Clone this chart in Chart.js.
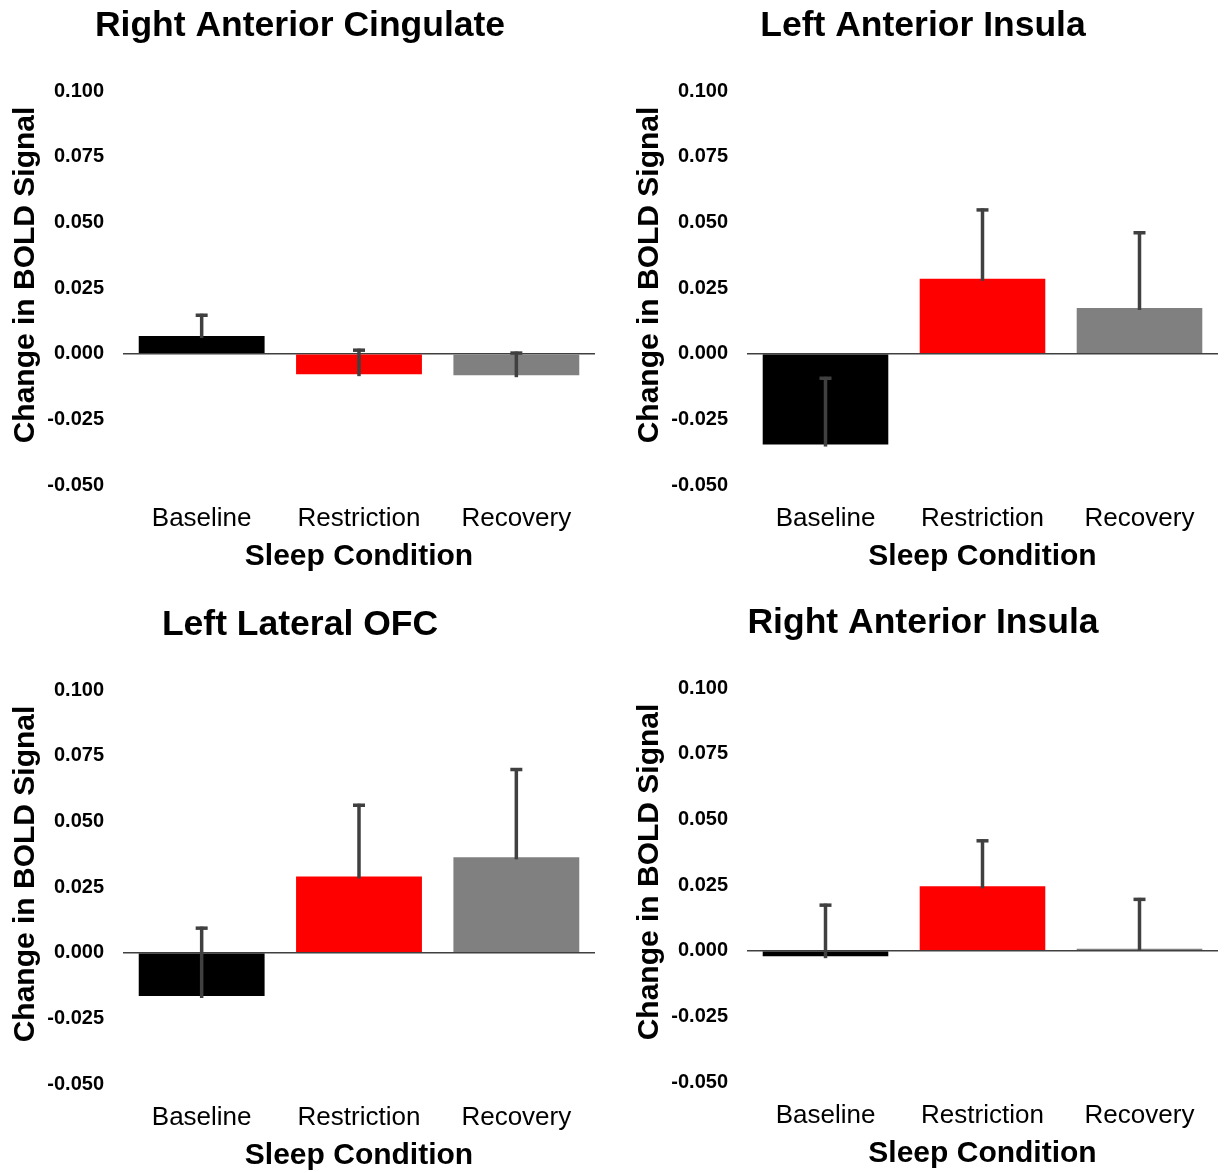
<!DOCTYPE html>
<html>
<head>
<meta charset="utf-8">
<script src="https://cdn.jsdelivr.net/npm/chart.js@4.4.1/dist/chart.umd.min.js"></script>
<style>
  html, body { margin: 0; padding: 0; background: #ffffff; overflow: hidden; width: 1225px; height: 1173px; }
  .panel { position: absolute; }
  canvas { display: block; }
</style>
</head>
<body>
<div class="panel" style="left:0px;top:0px"><canvas id="c0" width="612" height="590"></canvas></div>
<div class="panel" style="left:612px;top:0px"><canvas id="c1" width="613" height="590"></canvas></div>
<div class="panel" style="left:0px;top:599px"><canvas id="c2" width="612" height="590"></canvas></div>
<div class="panel" style="left:612px;top:597px"><canvas id="c3" width="613" height="590"></canvas></div>
<script>
// Sleep conditions on the x axis
const categories = ['Baseline', 'Restriction', 'Recovery'];

// Region titles, one per panel
const regionTitles = ['Right Anterior Cingulate', 'Left Anterior Insula', 'Left Lateral OFC', 'Right Anterior Insula'];

// Mean change in BOLD signal per condition
const rightAntCingulateMean = [0.0067, -0.0078, -0.0082];
const leftAntInsulaMean     = [-0.0346, 0.0285, 0.0174];
const leftLatOFCMean        = [-0.0165, 0.0290, 0.0363];
const rightAntInsulaMean    = [-0.0021, 0.0245, 0.0007];

// Upper error (SEM) per condition
const rightAntCingulateErr = [0.0085, 0.0097, 0.0090];
const leftAntInsulaErr     = [0.0258, 0.0268, 0.0292];
const leftLatOFCErr        = [0.0264, 0.0277, 0.0340];
const rightAntInsulaErr    = [0.0200, 0.0179, 0.0194];

// Y axis tick values
const yTickValues = [-0.05, -0.025, 0, 0.025, 0.05, 0.075, 0.1];

const yAxisLabel = 'Change in BOLD Signal';
const xAxisLabel = 'Sleep Condition';

const barColors = ['#000000', '#ff0000', '#808080'];
const FONT = '"Liberation Sans", Arial, Helvetica, sans-serif';

const panels = [
  { id: 'c0', title: regionTitles[0], mean: rightAntCingulateMean, err: rightAntCingulateErr, col: 0 },
  { id: 'c1', title: regionTitles[1], mean: leftAntInsulaMean,     err: leftAntInsulaErr,     col: 1 },
  { id: 'c2', title: regionTitles[2], mean: leftLatOFCMean,        err: leftLatOFCErr,        col: 0 },
  { id: 'c3', title: regionTitles[3], mean: rightAntInsulaMean,    err: rightAntInsulaErr,    col: 1 }
];

// One-sided (upper) error bars with a flat cap
const errorBarPlugin = {
  id: 'errorBars',
  afterDatasetsDraw(chart) {
    const ctx = chart.ctx;
    const yScale = chart.scales.y;
    const ds = chart.data.datasets[0];
    const meta = chart.getDatasetMeta(0);
    ctx.save();
    ctx.strokeStyle = '#404040';
    meta.data.forEach((bar, i) => {
      const v = ds.data[i];
      const yBase = yScale.getPixelForValue(v);
      const yTop = yScale.getPixelForValue(v + ds.errors[i]);
      ctx.lineWidth = 3.5;
      ctx.beginPath();
      ctx.moveTo(bar.x, yBase + 2);
      ctx.lineTo(bar.x, yTop);
      ctx.stroke();
      ctx.lineWidth = 3.5;
      ctx.beginPath();
      ctx.moveTo(bar.x - 6, yTop + 1.5);
      ctx.lineTo(bar.x + 6, yTop + 1.5);
      ctx.stroke();
    });
    ctx.restore();
  }
};

// Rotated y axis title beside the tick labels
const yTitlePlugin = {
  id: 'yTitle',
  afterDraw(chart) {
    const { ctx, chartArea } = chart;
    ctx.save();
    ctx.translate(chartArea.left - 97, (chartArea.top + chartArea.bottom) / 2 - 13);
    ctx.rotate(-Math.PI / 2);
    ctx.font = 'bold 30px ' + FONT;
    ctx.fillStyle = '#000000';
    ctx.textAlign = 'center';
    ctx.textBaseline = 'middle';
    ctx.fillText(yAxisLabel, 0, 0);
    ctx.restore();
  }
};

panels.forEach(p => {
  const pad = p.col === 0 ? { left: 5, right: 17, top: 0, bottom: 0 } : { left: 16, right: 7, top: 0, bottom: 0 };
  const yWidth = p.col === 0 ? 118 : 119;
  new Chart(document.getElementById(p.id), {
    type: 'bar',
    data: {
      labels: categories,
      datasets: [{
        data: p.mean,
        errors: p.err,
        backgroundColor: barColors,
        borderWidth: 0,
        barPercentage: 0.8,
        categoryPercentage: 1.0
      }]
    },
    options: {
      responsive: false,
      animation: false,
      devicePixelRatio: 1,
      layout: { padding: pad },
      plugins: {
        legend: { display: false },
        tooltip: { enabled: false },
        title: {
          display: true,
          text: p.title,
          color: '#000000',
          font: { family: FONT, size: 35.5, weight: 'bold' },
          padding: { top: 5, bottom: 43.4 }
        }
      },
      scales: {
        x: {
          grid: { display: false, drawTicks: false },
          border: { display: false },
          ticks: { color: '#000000', font: { family: FONT, size: 26 }, padding: 18, maxRotation: 0 },
          title: {
            display: true,
            text: xAxisLabel,
            color: '#000000',
            font: { family: FONT, size: 30, weight: 'bold' },
            padding: { top: 0, bottom: 15 }
          },
          afterFit(scale) { scale.height = 105; }
        },
        y: {
          min: -0.05,
          max: 0.1,
          grid: {
            drawTicks: false,
            color: c => (c.tick && c.tick.value === 0 ? '#404040' : 'rgba(0,0,0,0)'),
            lineWidth: 1.5
          },
          border: { display: false },
          ticks: {
            color: '#000000',
            font: { family: FONT, size: 20, weight: 'bold' },
            padding: 19,
            callback: v => (Math.abs(v) < 1e-9 ? 0 : v).toFixed(3)
          },
          afterBuildTicks(scale) { scale.ticks = yTickValues.map(v => ({ value: v })); },
          afterFit(scale) { scale.width = yWidth; }
        }
      }
    },
    plugins: [errorBarPlugin, yTitlePlugin]
  });
});
</script>
</body>
</html>
